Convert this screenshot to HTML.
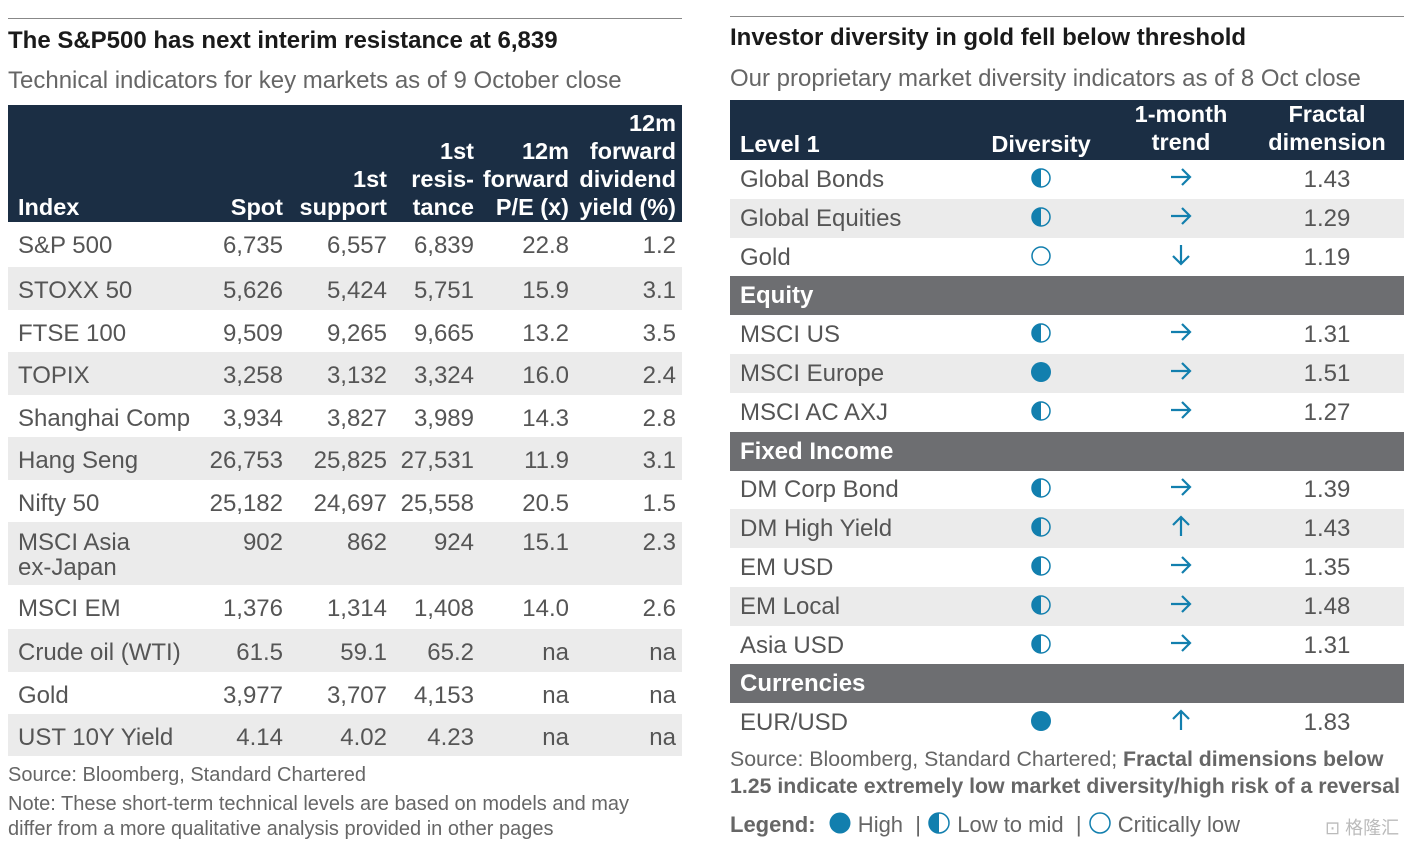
<!DOCTYPE html>
<html><head><meta charset="utf-8"><style>
*{margin:0;padding:0;box-sizing:border-box}
body{width:1419px;height:848px;background:#fff;position:relative;font-family:"Liberation Sans",Arial,sans-serif;overflow:hidden}
.a{position:absolute;white-space:nowrap}
.t{font-weight:bold;font-size:24px;color:#1a1a1a}
.s{font-size:24px;color:#666}
.hd{position:absolute;background:#1b2e44}
.h{position:absolute;color:#fff;font-weight:bold;font-size:23.5px;line-height:28px;text-align:right;white-space:nowrap}
.c{position:absolute;font-size:24px;color:#555;line-height:26px;white-space:nowrap}
.sec{position:absolute;background:#6d6e71;color:#fff;font-weight:bold;font-size:24px;padding-left:10px}
.note{font-size:20px;color:#666}
</style></head><body>
<!-- LEFT -->
<div class="a" style="left:8px;top:18px;width:674px;height:1px;background:#888"></div>
<div class="a t" style="left:8px;top:27px">The S&amp;P500 has next interim resistance at 6,839</div>
<div class="a s" style="left:8px;top:67px">Technical indicators for key markets as of 9 October close</div>
<div class="hd" style="left:8px;top:105px;width:674px;height:117px"></div>
<div class="h" style="left:18px;top:193px;text-align:left">Index</div>
<div class="h" style="right:1136px;top:193px">Spot</div>
<div class="h" style="right:1032px;top:165px">1st<br>support</div>
<div class="h" style="right:945px;top:137px">1st<br>resis-<br>tance</div>
<div class="h" style="right:850px;top:137px">12m<br>forward<br>P/E (x)</div>
<div class="h" style="right:743px;top:109px">12m<br>forward<br>dividend<br>yield (%)</div>
<div id="L"></div>
<div class="a note" style="left:8px;top:764px">Source: Bloomberg, Standard Chartered</div>
<div class="a note" style="left:8px;top:792px;line-height:25px;white-space:normal;width:665px">Note: These short-term technical levels are based on models and may differ from a more qualitative analysis provided in other pages</div>
<!-- RIGHT -->
<div class="a" style="left:730px;top:16px;width:674px;height:1px;background:#888"></div>
<div class="a t" style="left:730px;top:24px">Investor diversity in gold fell below threshold</div>
<div class="a s" style="left:730px;top:65px">Our proprietary market diversity indicators as of 8 Oct close</div>
<div class="hd" style="left:730px;top:100px;width:674px;height:60px"></div>
<div class="h" style="left:740px;top:130px;text-align:left">Level 1</div>
<div class="h" style="left:971px;width:140px;top:130px;text-align:center">Diversity</div>
<div class="h" style="left:1111px;width:140px;top:100px;text-align:center">1-month<br>trend</div>
<div class="h" style="left:1252px;width:150px;top:100px;text-align:center">Fractal<br>dimension</div>
<div id="R"></div>
<div class="a" style="left:730px;top:746px;font-size:21.3px;color:#666;line-height:27px">Source: Bloomberg, Standard Chartered; <b>Fractal dimensions below<br>1.25 indicate extremely low market diversity/high risk of a reversal</b></div>
<div class="a" style="left:730px;top:811px;font-size:22px;color:#666"><b>Legend:</b>
<svg width="24" height="24" viewBox="0 0 24 24" style="vertical-align:-3px;margin-left:6px"><circle cx="12" cy="12" r="10.5" fill="#127fae"/></svg> High &nbsp;| 
<svg width="24" height="24" viewBox="0 0 24 24" style="vertical-align:-3px"><circle cx="12" cy="12" r="10" fill="none" stroke="#127fae" stroke-width="1.5"/><path d="M12 2 A10 10 0 0 0 12 22 Z" fill="#127fae"/></svg> Low to mid &nbsp;| 
<svg width="24" height="24" viewBox="0 0 24 24" style="vertical-align:-3px"><circle cx="12" cy="12" r="10" fill="none" stroke="#127fae" stroke-width="1.5"/></svg> Critically low</div>
<div class="a" style="left:1325px;top:814px;font-size:18px;color:#bbb">⊡ 格隆汇</div>
<script>
var L=[["S&P 500","6,735","6,557","6,839","22.8","1.2",222,267],["STOXX 50","5,626","5,424","5,751","15.9","3.1",267,310],["FTSE 100","9,509","9,265","9,665","13.2","3.5",310,352],["TOPIX","3,258","3,132","3,324","16.0","2.4",352,395],["Shanghai Comp","3,934","3,827","3,989","14.3","2.8",395,437],["Hang Seng","26,753","25,825","27,531","11.9","3.1",437,480],["Nifty 50","25,182","24,697","25,558","20.5","1.5",480,522],["MSCI Asia<br>ex-Japan","902","862","924","15.1","2.3",522,585],["MSCI EM","1,376","1,314","1,408","14.0","2.6",585,629],["Crude oil (WTI)","61.5","59.1","65.2","na","na",629,672],["Gold","3,977","3,707","4,153","na","na",672,714],["UST 10Y Yield","4.14","4.02","4.23","na","na",714,756]];
var rr=[283,387,474,569,676],h="";
L.forEach(function(r,i){var y=r[6],hh=r[7]-r[6];
if(i%2)h+='<div class="a" style="left:8px;top:'+y+'px;width:674px;height:'+hh+'px;background:#ebebeb"></div>';
var ty=y+(i==7?8:11);
h+='<div class="c" style="left:18px;top:'+ty+'px;line-height:'+(i==7?'25px':'26px')+'">'+r[0]+'</div>';
for(var k=0;k<5;k++)h+='<div class="c" style="right:'+(1419-rr[k])+'px;top:'+ty+'px">'+r[k+1]+'</div>';});
document.getElementById("L").outerHTML=h;
var F='<svg width="22" height="22" viewBox="0 0 22 22"><circle cx="11" cy="11" r="10" fill="#127fae"/></svg>',
M='<svg width="22" height="22" viewBox="0 0 22 22"><circle cx="11" cy="11" r="9" fill="none" stroke="#127fae" stroke-width="1.5"/><path d="M11 2 A9 9 0 0 0 11 20 Z" fill="#127fae"/></svg>',
E='<svg width="22" height="22" viewBox="0 0 22 22"><circle cx="11" cy="11" r="9" fill="none" stroke="#127fae" stroke-width="1.5"/></svg>';
var A={r:'<svg width="24" height="24" viewBox="0 0 24 24"><path d="M2 12H21M13 4L21 12L13 20" fill="none" stroke="#127fae" stroke-width="2.2"/></svg>',
d:'<svg width="24" height="24" viewBox="0 0 24 24"><path d="M12 2V21M4 13L12 21L20 13" fill="none" stroke="#127fae" stroke-width="2.2"/></svg>',
u:'<svg width="24" height="24" viewBox="0 0 24 24"><path d="M12 22V3M4 11L12 3L20 11" fill="none" stroke="#127fae" stroke-width="2.2"/></svg>'};
var R=[["Global Bonds",M,"r","1.43",0],["Global Equities",M,"r","1.29",1],["Gold",E,"d","1.19",0],["Equity"],["MSCI US",M,"r","1.31",0],["MSCI Europe",F,"r","1.51",1],["MSCI AC AXJ",M,"r","1.27",0],["Fixed Income"],["DM Corp Bond",M,"r","1.39",0],["DM High Yield",M,"u","1.43",1],["EM USD",M,"r","1.35",0],["EM Local",M,"r","1.48",1],["Asia USD",M,"r","1.31",0],["Currencies"],["EUR/USD",F,"u","1.83",0]];
h="";R.forEach(function(r,i){var y=Math.round(160+i*38.8),hh=39;
if(r.length==1){h+='<div class="sec" style="left:730px;top:'+y+'px;width:674px;height:'+hh+'px;line-height:'+hh+'px">'+r[0]+'</div>';return;}
if(r[4])h+='<div class="a" style="left:730px;top:'+y+'px;width:674px;height:'+hh+'px;background:#ebebeb"></div>';
h+='<div class="c" style="left:740px;top:'+(y+7)+'px">'+r[0]+'</div>';
h+='<div class="a" style="left:1030px;top:'+(y+7)+'px">'+r[1]+'</div>';
h+='<div class="a" style="left:1169px;top:'+(y+5)+'px">'+A[r[2]]+'</div>';
h+='<div class="c" style="left:1277px;width:100px;text-align:center;top:'+(y+7)+'px">'+r[3]+'</div>';});
document.getElementById("R").outerHTML=h;
</script>
</body></html>
